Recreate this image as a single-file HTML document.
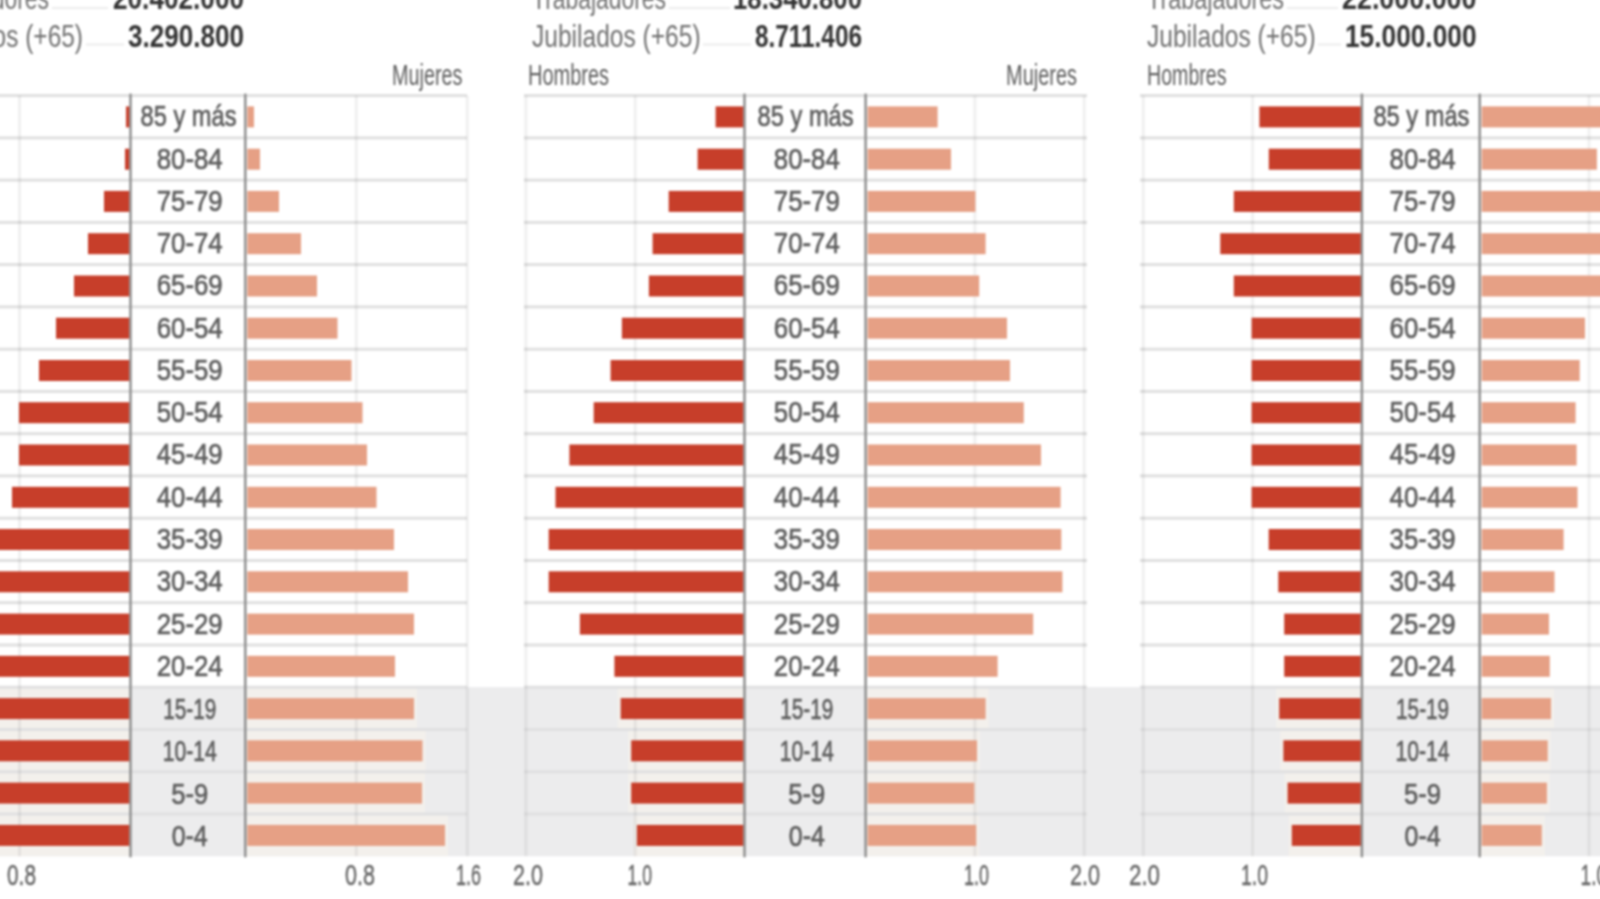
<!DOCTYPE html>
<html><head><meta charset="utf-8"><title>Piramides de poblacion</title>
<style>
html,body{margin:0;padding:0;background:#fff;overflow:hidden}
body{position:relative;width:1600px;height:899px;font-family:"Liberation Sans",sans-serif}
svg{display:block;position:absolute;left:-20px;top:-20px;font-family:"Liberation Sans",sans-serif;filter:blur(0.9px)}
</style></head><body>
<svg width="1640" height="939" viewBox="-20 -20 1640 939">
<rect x="-20" y="-20" width="1640" height="939" fill="#fff"/>
<rect x="-20" y="687.2" width="1640" height="169.0" fill="#ececed"/>
<rect x="-13.0" y="687.2" width="143.5" height="42.26" fill="#f3f0ec"/>
<rect x="245.3" y="687.2" width="171.7" height="42.26" fill="#f3f0ec"/>
<rect x="-13.0" y="729.5" width="143.5" height="42.26" fill="#f3f0ec"/>
<rect x="245.3" y="729.5" width="180.2" height="42.26" fill="#f3f0ec"/>
<rect x="-13.0" y="771.8" width="143.5" height="42.26" fill="#f3f0ec"/>
<rect x="245.3" y="771.8" width="179.7" height="42.26" fill="#f3f0ec"/>
<rect x="-13.0" y="814.0" width="143.5" height="42.26" fill="#f3f0ec"/>
<rect x="245.3" y="814.0" width="202.7" height="42.26" fill="#f3f0ec"/>
<rect x="-100" y="94.1" width="567" height="3" fill="#e0e0e0"/>
<rect x="-100" y="136.4" width="567" height="3" fill="#e0e0e0"/>
<rect x="-100" y="178.6" width="567" height="3" fill="#e0e0e0"/>
<rect x="-100" y="220.9" width="567" height="3" fill="#e0e0e0"/>
<rect x="-100" y="263.1" width="567" height="3" fill="#e0e0e0"/>
<rect x="-100" y="305.4" width="567" height="3" fill="#e0e0e0"/>
<rect x="-100" y="347.7" width="567" height="3" fill="#e0e0e0"/>
<rect x="-100" y="389.9" width="567" height="3" fill="#e0e0e0"/>
<rect x="-100" y="432.2" width="567" height="3" fill="#e0e0e0"/>
<rect x="-100" y="474.4" width="567" height="3" fill="#e0e0e0"/>
<rect x="-100" y="516.7" width="567" height="3" fill="#e0e0e0"/>
<rect x="-100" y="559.0" width="567" height="3" fill="#e0e0e0"/>
<rect x="-100" y="601.2" width="567" height="3" fill="#e0e0e0"/>
<rect x="-100" y="643.5" width="567" height="3" fill="#e0e0e0"/>
<rect x="-100" y="685.7" width="567" height="3" fill="#e0e0e1"/>
<rect x="-100" y="728.0" width="567" height="3" fill="#e0e0e1"/>
<rect x="-100" y="770.3" width="567" height="3" fill="#e0e0e1"/>
<rect x="-100" y="812.5" width="567" height="3" fill="#e0e0e1"/>
<rect x="18.0" y="95.6" width="3" height="760.7" fill="#000" opacity="0.06"/>
<rect x="354.8" y="95.6" width="3" height="760.7" fill="#000" opacity="0.06"/>
<rect x="-93.0" y="95.6" width="3" height="760.7" fill="#000" opacity="0.06"/>
<rect x="465.8" y="95.6" width="3" height="760.7" fill="#000" opacity="0.06"/>
<rect x="126.0" y="106.4" width="3.5" height="21" fill="#c73e2a"/>
<rect x="247.3" y="106.4" width="6.7" height="21" fill="#e6a085"/>
<rect x="125.0" y="148.7" width="4.5" height="21" fill="#c73e2a"/>
<rect x="247.3" y="148.7" width="12.7" height="21" fill="#e6a085"/>
<rect x="104.0" y="190.9" width="25.5" height="21" fill="#c73e2a"/>
<rect x="247.3" y="190.9" width="31.7" height="21" fill="#e6a085"/>
<rect x="88.0" y="233.2" width="41.5" height="21" fill="#c73e2a"/>
<rect x="247.3" y="233.2" width="53.7" height="21" fill="#e6a085"/>
<rect x="74.0" y="275.5" width="55.5" height="21" fill="#c73e2a"/>
<rect x="247.3" y="275.5" width="69.7" height="21" fill="#e6a085"/>
<rect x="56.0" y="317.7" width="73.5" height="21" fill="#c73e2a"/>
<rect x="247.3" y="317.7" width="90.2" height="21" fill="#e6a085"/>
<rect x="39.0" y="360.0" width="90.5" height="21" fill="#c73e2a"/>
<rect x="247.3" y="360.0" width="104.2" height="21" fill="#e6a085"/>
<rect x="19.0" y="402.2" width="110.5" height="21" fill="#c73e2a"/>
<rect x="247.3" y="402.2" width="115.2" height="21" fill="#e6a085"/>
<rect x="19.0" y="444.5" width="110.5" height="21" fill="#c73e2a"/>
<rect x="247.3" y="444.5" width="119.7" height="21" fill="#e6a085"/>
<rect x="12.0" y="486.8" width="117.5" height="21" fill="#c73e2a"/>
<rect x="247.3" y="486.8" width="129.2" height="21" fill="#e6a085"/>
<rect x="-10.0" y="529.0" width="139.5" height="21" fill="#c73e2a"/>
<rect x="247.3" y="529.0" width="146.7" height="21" fill="#e6a085"/>
<rect x="-10.0" y="571.3" width="139.5" height="21" fill="#c73e2a"/>
<rect x="247.3" y="571.3" width="160.7" height="21" fill="#e6a085"/>
<rect x="-10.0" y="613.6" width="139.5" height="21" fill="#c73e2a"/>
<rect x="247.3" y="613.6" width="166.7" height="21" fill="#e6a085"/>
<rect x="-10.0" y="655.8" width="139.5" height="21" fill="#c73e2a"/>
<rect x="247.3" y="655.8" width="147.7" height="21" fill="#e6a085"/>
<rect x="-10.0" y="698.1" width="139.5" height="21" fill="#c73e2a"/>
<rect x="247.3" y="698.1" width="166.7" height="21" fill="#e6a085"/>
<rect x="-10.0" y="740.3" width="139.5" height="21" fill="#c73e2a"/>
<rect x="247.3" y="740.3" width="175.2" height="21" fill="#e6a085"/>
<rect x="-10.0" y="782.6" width="139.5" height="21" fill="#c73e2a"/>
<rect x="247.3" y="782.6" width="174.7" height="21" fill="#e6a085"/>
<rect x="-10.0" y="824.9" width="139.5" height="21" fill="#c73e2a"/>
<rect x="247.3" y="824.9" width="197.7" height="21" fill="#e6a085"/>
<rect x="129.3" y="93.6" width="2.4" height="763.7" fill="#8c8c8c"/>
<rect x="244.1" y="93.6" width="2.4" height="763.7" fill="#8c8c8c"/>
<text x="140.5" y="126.3" font-size="29.5" textLength="96" lengthAdjust="spacingAndGlyphs" fill="#5e5e5e" stroke="#5e5e5e" stroke-width="0.7">85 y más</text>
<text x="156.7" y="168.6" font-size="29.5" textLength="66" lengthAdjust="spacingAndGlyphs" fill="#5e5e5e" stroke="#5e5e5e" stroke-width="0.7">80-84</text>
<text x="156.7" y="210.8" font-size="29.5" textLength="66" lengthAdjust="spacingAndGlyphs" fill="#5e5e5e" stroke="#5e5e5e" stroke-width="0.7">75-79</text>
<text x="156.7" y="253.1" font-size="29.5" textLength="66" lengthAdjust="spacingAndGlyphs" fill="#5e5e5e" stroke="#5e5e5e" stroke-width="0.7">70-74</text>
<text x="156.7" y="295.4" font-size="29.5" textLength="66" lengthAdjust="spacingAndGlyphs" fill="#5e5e5e" stroke="#5e5e5e" stroke-width="0.7">65-69</text>
<text x="156.7" y="337.6" font-size="29.5" textLength="66" lengthAdjust="spacingAndGlyphs" fill="#5e5e5e" stroke="#5e5e5e" stroke-width="0.7">60-54</text>
<text x="156.7" y="379.9" font-size="29.5" textLength="66" lengthAdjust="spacingAndGlyphs" fill="#5e5e5e" stroke="#5e5e5e" stroke-width="0.7">55-59</text>
<text x="156.7" y="422.1" font-size="29.5" textLength="66" lengthAdjust="spacingAndGlyphs" fill="#5e5e5e" stroke="#5e5e5e" stroke-width="0.7">50-54</text>
<text x="156.7" y="464.4" font-size="29.5" textLength="66" lengthAdjust="spacingAndGlyphs" fill="#5e5e5e" stroke="#5e5e5e" stroke-width="0.7">45-49</text>
<text x="156.7" y="506.7" font-size="29.5" textLength="66" lengthAdjust="spacingAndGlyphs" fill="#5e5e5e" stroke="#5e5e5e" stroke-width="0.7">40-44</text>
<text x="156.7" y="548.9" font-size="29.5" textLength="66" lengthAdjust="spacingAndGlyphs" fill="#5e5e5e" stroke="#5e5e5e" stroke-width="0.7">35-39</text>
<text x="156.7" y="591.2" font-size="29.5" textLength="66" lengthAdjust="spacingAndGlyphs" fill="#5e5e5e" stroke="#5e5e5e" stroke-width="0.7">30-34</text>
<text x="156.7" y="633.5" font-size="29.5" textLength="66" lengthAdjust="spacingAndGlyphs" fill="#5e5e5e" stroke="#5e5e5e" stroke-width="0.7">25-29</text>
<text x="156.7" y="675.7" font-size="29.5" textLength="66" lengthAdjust="spacingAndGlyphs" fill="#5e5e5e" stroke="#5e5e5e" stroke-width="0.7">20-24</text>
<text x="163.2" y="719.2" font-size="29.5" textLength="53" lengthAdjust="spacingAndGlyphs" fill="#5e5e5e" stroke="#5e5e5e" stroke-width="0.7">15-19</text>
<text x="162.7" y="761.4" font-size="29.5" textLength="54" lengthAdjust="spacingAndGlyphs" fill="#5e5e5e" stroke="#5e5e5e" stroke-width="0.7">10-14</text>
<text x="171.2" y="803.7" font-size="29.5" textLength="37" lengthAdjust="spacingAndGlyphs" fill="#5e5e5e" stroke="#5e5e5e" stroke-width="0.7">5-9</text>
<text x="171.7" y="846.0" font-size="29.5" textLength="36" lengthAdjust="spacingAndGlyphs" fill="#5e5e5e" stroke="#5e5e5e" stroke-width="0.7">0-4</text>
<rect x="617.7" y="687.2" width="126.8" height="42.26" fill="#f3f0ec"/>
<rect x="865.6" y="687.2" width="123.0" height="42.26" fill="#f3f0ec"/>
<rect x="628.2" y="729.5" width="116.3" height="42.26" fill="#f3f0ec"/>
<rect x="865.6" y="729.5" width="114.4" height="42.26" fill="#f3f0ec"/>
<rect x="628.2" y="771.8" width="116.3" height="42.26" fill="#f3f0ec"/>
<rect x="865.6" y="771.8" width="111.7" height="42.26" fill="#f3f0ec"/>
<rect x="633.9" y="814.0" width="110.6" height="42.26" fill="#f3f0ec"/>
<rect x="865.6" y="814.0" width="113.6" height="42.26" fill="#f3f0ec"/>
<rect x="524" y="94.1" width="563" height="3" fill="#e0e0e0"/>
<rect x="524" y="136.4" width="563" height="3" fill="#e0e0e0"/>
<rect x="524" y="178.6" width="563" height="3" fill="#e0e0e0"/>
<rect x="524" y="220.9" width="563" height="3" fill="#e0e0e0"/>
<rect x="524" y="263.1" width="563" height="3" fill="#e0e0e0"/>
<rect x="524" y="305.4" width="563" height="3" fill="#e0e0e0"/>
<rect x="524" y="347.7" width="563" height="3" fill="#e0e0e0"/>
<rect x="524" y="389.9" width="563" height="3" fill="#e0e0e0"/>
<rect x="524" y="432.2" width="563" height="3" fill="#e0e0e0"/>
<rect x="524" y="474.4" width="563" height="3" fill="#e0e0e0"/>
<rect x="524" y="516.7" width="563" height="3" fill="#e0e0e0"/>
<rect x="524" y="559.0" width="563" height="3" fill="#e0e0e0"/>
<rect x="524" y="601.2" width="563" height="3" fill="#e0e0e0"/>
<rect x="524" y="643.5" width="563" height="3" fill="#e0e0e0"/>
<rect x="524" y="685.7" width="563" height="3" fill="#e0e0e1"/>
<rect x="524" y="728.0" width="563" height="3" fill="#e0e0e1"/>
<rect x="524" y="770.3" width="563" height="3" fill="#e0e0e1"/>
<rect x="524" y="812.5" width="563" height="3" fill="#e0e0e1"/>
<rect x="633.7" y="95.6" width="3" height="760.7" fill="#000" opacity="0.06"/>
<rect x="973.4" y="95.6" width="3" height="760.7" fill="#000" opacity="0.06"/>
<rect x="524.4" y="95.6" width="3" height="760.7" fill="#000" opacity="0.06"/>
<rect x="1082.7" y="95.6" width="3" height="760.7" fill="#000" opacity="0.06"/>
<rect x="715.6" y="106.4" width="27.9" height="21" fill="#c73e2a"/>
<rect x="867.6" y="106.4" width="70.0" height="21" fill="#e6a085"/>
<rect x="697.6" y="148.7" width="45.9" height="21" fill="#c73e2a"/>
<rect x="867.6" y="148.7" width="83.4" height="21" fill="#e6a085"/>
<rect x="668.7" y="190.9" width="74.8" height="21" fill="#c73e2a"/>
<rect x="867.6" y="190.9" width="107.8" height="21" fill="#e6a085"/>
<rect x="652.6" y="233.2" width="90.9" height="21" fill="#c73e2a"/>
<rect x="867.6" y="233.2" width="118.0" height="21" fill="#e6a085"/>
<rect x="648.9" y="275.5" width="94.6" height="21" fill="#c73e2a"/>
<rect x="867.6" y="275.5" width="111.6" height="21" fill="#e6a085"/>
<rect x="621.9" y="317.7" width="121.6" height="21" fill="#c73e2a"/>
<rect x="867.6" y="317.7" width="139.4" height="21" fill="#e6a085"/>
<rect x="610.6" y="360.0" width="132.9" height="21" fill="#c73e2a"/>
<rect x="867.6" y="360.0" width="142.4" height="21" fill="#e6a085"/>
<rect x="593.7" y="402.2" width="149.8" height="21" fill="#c73e2a"/>
<rect x="867.6" y="402.2" width="156.2" height="21" fill="#e6a085"/>
<rect x="569.4" y="444.5" width="174.1" height="21" fill="#c73e2a"/>
<rect x="867.6" y="444.5" width="173.4" height="21" fill="#e6a085"/>
<rect x="555.5" y="486.8" width="188.0" height="21" fill="#c73e2a"/>
<rect x="867.6" y="486.8" width="193.0" height="21" fill="#e6a085"/>
<rect x="548.7" y="529.0" width="194.8" height="21" fill="#c73e2a"/>
<rect x="867.6" y="529.0" width="193.7" height="21" fill="#e6a085"/>
<rect x="548.7" y="571.3" width="194.8" height="21" fill="#c73e2a"/>
<rect x="867.6" y="571.3" width="194.8" height="21" fill="#e6a085"/>
<rect x="579.9" y="613.6" width="163.6" height="21" fill="#c73e2a"/>
<rect x="867.6" y="613.6" width="165.6" height="21" fill="#e6a085"/>
<rect x="614.4" y="655.8" width="129.1" height="21" fill="#c73e2a"/>
<rect x="867.6" y="655.8" width="130.0" height="21" fill="#e6a085"/>
<rect x="620.7" y="698.1" width="122.8" height="21" fill="#c73e2a"/>
<rect x="867.6" y="698.1" width="118.0" height="21" fill="#e6a085"/>
<rect x="631.2" y="740.3" width="112.3" height="21" fill="#c73e2a"/>
<rect x="867.6" y="740.3" width="109.4" height="21" fill="#e6a085"/>
<rect x="631.2" y="782.6" width="112.3" height="21" fill="#c73e2a"/>
<rect x="867.6" y="782.6" width="106.7" height="21" fill="#e6a085"/>
<rect x="636.9" y="824.9" width="106.6" height="21" fill="#c73e2a"/>
<rect x="867.6" y="824.9" width="108.6" height="21" fill="#e6a085"/>
<rect x="743.3" y="93.6" width="2.4" height="763.7" fill="#8c8c8c"/>
<rect x="864.4" y="93.6" width="2.4" height="763.7" fill="#8c8c8c"/>
<text x="757.6" y="126.3" font-size="29.5" textLength="96" lengthAdjust="spacingAndGlyphs" fill="#5e5e5e" stroke="#5e5e5e" stroke-width="0.7">85 y más</text>
<text x="773.8" y="168.6" font-size="29.5" textLength="66" lengthAdjust="spacingAndGlyphs" fill="#5e5e5e" stroke="#5e5e5e" stroke-width="0.7">80-84</text>
<text x="773.8" y="210.8" font-size="29.5" textLength="66" lengthAdjust="spacingAndGlyphs" fill="#5e5e5e" stroke="#5e5e5e" stroke-width="0.7">75-79</text>
<text x="773.8" y="253.1" font-size="29.5" textLength="66" lengthAdjust="spacingAndGlyphs" fill="#5e5e5e" stroke="#5e5e5e" stroke-width="0.7">70-74</text>
<text x="773.8" y="295.4" font-size="29.5" textLength="66" lengthAdjust="spacingAndGlyphs" fill="#5e5e5e" stroke="#5e5e5e" stroke-width="0.7">65-69</text>
<text x="773.8" y="337.6" font-size="29.5" textLength="66" lengthAdjust="spacingAndGlyphs" fill="#5e5e5e" stroke="#5e5e5e" stroke-width="0.7">60-54</text>
<text x="773.8" y="379.9" font-size="29.5" textLength="66" lengthAdjust="spacingAndGlyphs" fill="#5e5e5e" stroke="#5e5e5e" stroke-width="0.7">55-59</text>
<text x="773.8" y="422.1" font-size="29.5" textLength="66" lengthAdjust="spacingAndGlyphs" fill="#5e5e5e" stroke="#5e5e5e" stroke-width="0.7">50-54</text>
<text x="773.8" y="464.4" font-size="29.5" textLength="66" lengthAdjust="spacingAndGlyphs" fill="#5e5e5e" stroke="#5e5e5e" stroke-width="0.7">45-49</text>
<text x="773.8" y="506.7" font-size="29.5" textLength="66" lengthAdjust="spacingAndGlyphs" fill="#5e5e5e" stroke="#5e5e5e" stroke-width="0.7">40-44</text>
<text x="773.8" y="548.9" font-size="29.5" textLength="66" lengthAdjust="spacingAndGlyphs" fill="#5e5e5e" stroke="#5e5e5e" stroke-width="0.7">35-39</text>
<text x="773.8" y="591.2" font-size="29.5" textLength="66" lengthAdjust="spacingAndGlyphs" fill="#5e5e5e" stroke="#5e5e5e" stroke-width="0.7">30-34</text>
<text x="773.8" y="633.5" font-size="29.5" textLength="66" lengthAdjust="spacingAndGlyphs" fill="#5e5e5e" stroke="#5e5e5e" stroke-width="0.7">25-29</text>
<text x="773.8" y="675.7" font-size="29.5" textLength="66" lengthAdjust="spacingAndGlyphs" fill="#5e5e5e" stroke="#5e5e5e" stroke-width="0.7">20-24</text>
<text x="780.3" y="719.2" font-size="29.5" textLength="53" lengthAdjust="spacingAndGlyphs" fill="#5e5e5e" stroke="#5e5e5e" stroke-width="0.7">15-19</text>
<text x="779.8" y="761.4" font-size="29.5" textLength="54" lengthAdjust="spacingAndGlyphs" fill="#5e5e5e" stroke="#5e5e5e" stroke-width="0.7">10-14</text>
<text x="788.3" y="803.7" font-size="29.5" textLength="37" lengthAdjust="spacingAndGlyphs" fill="#5e5e5e" stroke="#5e5e5e" stroke-width="0.7">5-9</text>
<text x="788.8" y="846.0" font-size="29.5" textLength="36" lengthAdjust="spacingAndGlyphs" fill="#5e5e5e" stroke="#5e5e5e" stroke-width="0.7">0-4</text>
<rect x="1276.2" y="687.2" width="85.7" height="42.26" fill="#f3f0ec"/>
<rect x="1479.7" y="687.2" width="74.3" height="42.26" fill="#f3f0ec"/>
<rect x="1280.4" y="729.5" width="81.5" height="42.26" fill="#f3f0ec"/>
<rect x="1479.7" y="729.5" width="71.0" height="42.26" fill="#f3f0ec"/>
<rect x="1284.6" y="771.8" width="77.3" height="42.26" fill="#f3f0ec"/>
<rect x="1479.7" y="771.8" width="70.2" height="42.26" fill="#f3f0ec"/>
<rect x="1288.8" y="814.0" width="73.1" height="42.26" fill="#f3f0ec"/>
<rect x="1479.7" y="814.0" width="65.1" height="42.26" fill="#f3f0ec"/>
<rect x="1140" y="94.1" width="470" height="3" fill="#e0e0e0"/>
<rect x="1140" y="136.4" width="470" height="3" fill="#e0e0e0"/>
<rect x="1140" y="178.6" width="470" height="3" fill="#e0e0e0"/>
<rect x="1140" y="220.9" width="470" height="3" fill="#e0e0e0"/>
<rect x="1140" y="263.1" width="470" height="3" fill="#e0e0e0"/>
<rect x="1140" y="305.4" width="470" height="3" fill="#e0e0e0"/>
<rect x="1140" y="347.7" width="470" height="3" fill="#e0e0e0"/>
<rect x="1140" y="389.9" width="470" height="3" fill="#e0e0e0"/>
<rect x="1140" y="432.2" width="470" height="3" fill="#e0e0e0"/>
<rect x="1140" y="474.4" width="470" height="3" fill="#e0e0e0"/>
<rect x="1140" y="516.7" width="470" height="3" fill="#e0e0e0"/>
<rect x="1140" y="559.0" width="470" height="3" fill="#e0e0e0"/>
<rect x="1140" y="601.2" width="470" height="3" fill="#e0e0e0"/>
<rect x="1140" y="643.5" width="470" height="3" fill="#e0e0e0"/>
<rect x="1140" y="685.7" width="470" height="3" fill="#e0e0e1"/>
<rect x="1140" y="728.0" width="470" height="3" fill="#e0e0e1"/>
<rect x="1140" y="770.3" width="470" height="3" fill="#e0e0e1"/>
<rect x="1140" y="812.5" width="470" height="3" fill="#e0e0e1"/>
<rect x="1251.1" y="95.6" width="3" height="760.7" fill="#000" opacity="0.06"/>
<rect x="1587.5" y="95.6" width="3" height="760.7" fill="#000" opacity="0.06"/>
<rect x="1141.8" y="95.6" width="3" height="760.7" fill="#000" opacity="0.06"/>
<rect x="1696.8" y="95.6" width="3" height="760.7" fill="#000" opacity="0.06"/>
<rect x="1259.4" y="106.4" width="101.5" height="21" fill="#c73e2a"/>
<rect x="1481.7" y="106.4" width="138.3" height="21" fill="#e6a085"/>
<rect x="1268.8" y="148.7" width="92.2" height="21" fill="#c73e2a"/>
<rect x="1481.7" y="148.7" width="115.2" height="21" fill="#e6a085"/>
<rect x="1233.8" y="190.9" width="127.2" height="21" fill="#c73e2a"/>
<rect x="1481.7" y="190.9" width="138.3" height="21" fill="#e6a085"/>
<rect x="1220.3" y="233.2" width="140.6" height="21" fill="#c73e2a"/>
<rect x="1481.7" y="233.2" width="138.3" height="21" fill="#e6a085"/>
<rect x="1233.8" y="275.5" width="127.2" height="21" fill="#c73e2a"/>
<rect x="1481.7" y="275.5" width="138.3" height="21" fill="#e6a085"/>
<rect x="1251.6" y="317.7" width="109.3" height="21" fill="#c73e2a"/>
<rect x="1481.7" y="317.7" width="103.3" height="21" fill="#e6a085"/>
<rect x="1251.6" y="360.0" width="109.3" height="21" fill="#c73e2a"/>
<rect x="1481.7" y="360.0" width="98.0" height="21" fill="#e6a085"/>
<rect x="1251.6" y="402.2" width="109.3" height="21" fill="#c73e2a"/>
<rect x="1481.7" y="402.2" width="93.9" height="21" fill="#e6a085"/>
<rect x="1251.6" y="444.5" width="109.3" height="21" fill="#c73e2a"/>
<rect x="1481.7" y="444.5" width="94.9" height="21" fill="#e6a085"/>
<rect x="1251.6" y="486.8" width="109.3" height="21" fill="#c73e2a"/>
<rect x="1481.7" y="486.8" width="95.8" height="21" fill="#e6a085"/>
<rect x="1268.7" y="529.0" width="92.2" height="21" fill="#c73e2a"/>
<rect x="1481.7" y="529.0" width="81.9" height="21" fill="#e6a085"/>
<rect x="1278.3" y="571.3" width="82.6" height="21" fill="#c73e2a"/>
<rect x="1481.7" y="571.3" width="72.8" height="21" fill="#e6a085"/>
<rect x="1284.2" y="613.6" width="76.7" height="21" fill="#c73e2a"/>
<rect x="1481.7" y="613.6" width="67.3" height="21" fill="#e6a085"/>
<rect x="1284.2" y="655.8" width="76.7" height="21" fill="#c73e2a"/>
<rect x="1481.7" y="655.8" width="68.1" height="21" fill="#e6a085"/>
<rect x="1279.2" y="698.1" width="81.7" height="21" fill="#c73e2a"/>
<rect x="1481.7" y="698.1" width="69.3" height="21" fill="#e6a085"/>
<rect x="1283.4" y="740.3" width="77.5" height="21" fill="#c73e2a"/>
<rect x="1481.7" y="740.3" width="66.0" height="21" fill="#e6a085"/>
<rect x="1287.6" y="782.6" width="73.3" height="21" fill="#c73e2a"/>
<rect x="1481.7" y="782.6" width="65.2" height="21" fill="#e6a085"/>
<rect x="1291.8" y="824.9" width="69.1" height="21" fill="#c73e2a"/>
<rect x="1481.7" y="824.9" width="60.1" height="21" fill="#e6a085"/>
<rect x="1360.7" y="93.6" width="2.4" height="763.7" fill="#8c8c8c"/>
<rect x="1478.5" y="93.6" width="2.4" height="763.7" fill="#8c8c8c"/>
<text x="1373.4" y="126.3" font-size="29.5" textLength="96" lengthAdjust="spacingAndGlyphs" fill="#5e5e5e" stroke="#5e5e5e" stroke-width="0.7">85 y más</text>
<text x="1389.6" y="168.6" font-size="29.5" textLength="66" lengthAdjust="spacingAndGlyphs" fill="#5e5e5e" stroke="#5e5e5e" stroke-width="0.7">80-84</text>
<text x="1389.6" y="210.8" font-size="29.5" textLength="66" lengthAdjust="spacingAndGlyphs" fill="#5e5e5e" stroke="#5e5e5e" stroke-width="0.7">75-79</text>
<text x="1389.6" y="253.1" font-size="29.5" textLength="66" lengthAdjust="spacingAndGlyphs" fill="#5e5e5e" stroke="#5e5e5e" stroke-width="0.7">70-74</text>
<text x="1389.6" y="295.4" font-size="29.5" textLength="66" lengthAdjust="spacingAndGlyphs" fill="#5e5e5e" stroke="#5e5e5e" stroke-width="0.7">65-69</text>
<text x="1389.6" y="337.6" font-size="29.5" textLength="66" lengthAdjust="spacingAndGlyphs" fill="#5e5e5e" stroke="#5e5e5e" stroke-width="0.7">60-54</text>
<text x="1389.6" y="379.9" font-size="29.5" textLength="66" lengthAdjust="spacingAndGlyphs" fill="#5e5e5e" stroke="#5e5e5e" stroke-width="0.7">55-59</text>
<text x="1389.6" y="422.1" font-size="29.5" textLength="66" lengthAdjust="spacingAndGlyphs" fill="#5e5e5e" stroke="#5e5e5e" stroke-width="0.7">50-54</text>
<text x="1389.6" y="464.4" font-size="29.5" textLength="66" lengthAdjust="spacingAndGlyphs" fill="#5e5e5e" stroke="#5e5e5e" stroke-width="0.7">45-49</text>
<text x="1389.6" y="506.7" font-size="29.5" textLength="66" lengthAdjust="spacingAndGlyphs" fill="#5e5e5e" stroke="#5e5e5e" stroke-width="0.7">40-44</text>
<text x="1389.6" y="548.9" font-size="29.5" textLength="66" lengthAdjust="spacingAndGlyphs" fill="#5e5e5e" stroke="#5e5e5e" stroke-width="0.7">35-39</text>
<text x="1389.6" y="591.2" font-size="29.5" textLength="66" lengthAdjust="spacingAndGlyphs" fill="#5e5e5e" stroke="#5e5e5e" stroke-width="0.7">30-34</text>
<text x="1389.6" y="633.5" font-size="29.5" textLength="66" lengthAdjust="spacingAndGlyphs" fill="#5e5e5e" stroke="#5e5e5e" stroke-width="0.7">25-29</text>
<text x="1389.6" y="675.7" font-size="29.5" textLength="66" lengthAdjust="spacingAndGlyphs" fill="#5e5e5e" stroke="#5e5e5e" stroke-width="0.7">20-24</text>
<text x="1396.1" y="719.2" font-size="29.5" textLength="53" lengthAdjust="spacingAndGlyphs" fill="#5e5e5e" stroke="#5e5e5e" stroke-width="0.7">15-19</text>
<text x="1395.6" y="761.4" font-size="29.5" textLength="54" lengthAdjust="spacingAndGlyphs" fill="#5e5e5e" stroke="#5e5e5e" stroke-width="0.7">10-14</text>
<text x="1404.1" y="803.7" font-size="29.5" textLength="37" lengthAdjust="spacingAndGlyphs" fill="#5e5e5e" stroke="#5e5e5e" stroke-width="0.7">5-9</text>
<text x="1404.6" y="846.0" font-size="29.5" textLength="36" lengthAdjust="spacingAndGlyphs" fill="#5e5e5e" stroke="#5e5e5e" stroke-width="0.7">0-4</text>
<text x="7" y="885" font-size="30" textLength="29" lengthAdjust="spacingAndGlyphs" fill="#666" stroke="#666" stroke-width="0.4">0.8</text>
<text x="345" y="885" font-size="30" textLength="30" lengthAdjust="spacingAndGlyphs" fill="#666" stroke="#666" stroke-width="0.4">0.8</text>
<text x="456" y="885" font-size="30" textLength="25" lengthAdjust="spacingAndGlyphs" fill="#666" stroke="#666" stroke-width="0.4">1.6</text>
<text x="513" y="885" font-size="30" textLength="30" lengthAdjust="spacingAndGlyphs" fill="#666" stroke="#666" stroke-width="0.4">2.0</text>
<text x="627.5" y="885" font-size="30" textLength="24.5" lengthAdjust="spacingAndGlyphs" fill="#666" stroke="#666" stroke-width="0.4">1.0</text>
<text x="964" y="885" font-size="30" textLength="25" lengthAdjust="spacingAndGlyphs" fill="#666" stroke="#666" stroke-width="0.4">1.0</text>
<text x="1070" y="885" font-size="30" textLength="30" lengthAdjust="spacingAndGlyphs" fill="#666" stroke="#666" stroke-width="0.4">2.0</text>
<text x="1129" y="885" font-size="30" textLength="31" lengthAdjust="spacingAndGlyphs" fill="#666" stroke="#666" stroke-width="0.4">2.0</text>
<text x="1241" y="885" font-size="30" textLength="27" lengthAdjust="spacingAndGlyphs" fill="#666" stroke="#666" stroke-width="0.4">1.0</text>
<text x="1580.6" y="885" font-size="30" textLength="26.40000000000009" lengthAdjust="spacingAndGlyphs" fill="#666" stroke="#666" stroke-width="0.4">1.0</text>
<text x="392" y="84.5" font-size="30" textLength="70.5" lengthAdjust="spacingAndGlyphs" fill="#5e5e5e">Mujeres</text>
<text x="528" y="84.5" font-size="30" textLength="81" lengthAdjust="spacingAndGlyphs" fill="#5e5e5e">Hombres</text>
<text x="1006" y="84.5" font-size="30" textLength="71" lengthAdjust="spacingAndGlyphs" fill="#5e5e5e">Mujeres</text>
<text x="1147" y="84.5" font-size="30" textLength="79.5" lengthAdjust="spacingAndGlyphs" fill="#5e5e5e">Hombres</text>
<text x="-85" y="47" font-size="31" textLength="168" lengthAdjust="spacingAndGlyphs" fill="#707070">Jubilados (+65)</text>
<text x="128" y="47" font-size="31" textLength="116" lengthAdjust="spacingAndGlyphs" fill="#333" font-weight="bold">3.290.800</text>
<text x="532" y="47" font-size="31" textLength="168.60000000000002" lengthAdjust="spacingAndGlyphs" fill="#707070">Jubilados (+65)</text>
<text x="755" y="47" font-size="31" textLength="107" lengthAdjust="spacingAndGlyphs" fill="#333" font-weight="bold">8.711.406</text>
<text x="1147" y="47" font-size="31" textLength="168.5999999999999" lengthAdjust="spacingAndGlyphs" fill="#707070">Jubilados (+65)</text>
<text x="1345" y="47" font-size="31" textLength="131.5" lengthAdjust="spacingAndGlyphs" fill="#333" font-weight="bold">15.000.000</text>
<text x="-85" y="9" font-size="31" textLength="134" lengthAdjust="spacingAndGlyphs" fill="#707070">Trabajadores</text>
<text x="113" y="9" font-size="31" textLength="131" lengthAdjust="spacingAndGlyphs" fill="#333" font-weight="bold">20.402.000</text>
<text x="532" y="9" font-size="31" textLength="134" lengthAdjust="spacingAndGlyphs" fill="#707070">Trabajadores</text>
<text x="733" y="9" font-size="31" textLength="129" lengthAdjust="spacingAndGlyphs" fill="#333" font-weight="bold">18.340.800</text>
<text x="1147" y="9" font-size="31" textLength="137" lengthAdjust="spacingAndGlyphs" fill="#707070">Trabajadores</text>
<text x="1342" y="9" font-size="31" textLength="134.5" lengthAdjust="spacingAndGlyphs" fill="#333" font-weight="bold">22.000.000</text>
<rect x="52" y="7" width="56" height="2" fill="#ececec"/>
<rect x="86" y="43.5" width="38" height="2" fill="#ececec"/>
<rect x="669" y="7" width="61" height="2" fill="#ececec"/>
<rect x="703" y="43.5" width="48" height="2" fill="#ececec"/>
<rect x="1287" y="7" width="51" height="2" fill="#ececec"/>
<rect x="1318" y="43.5" width="23" height="2" fill="#ececec"/>
</svg>
</body></html>
